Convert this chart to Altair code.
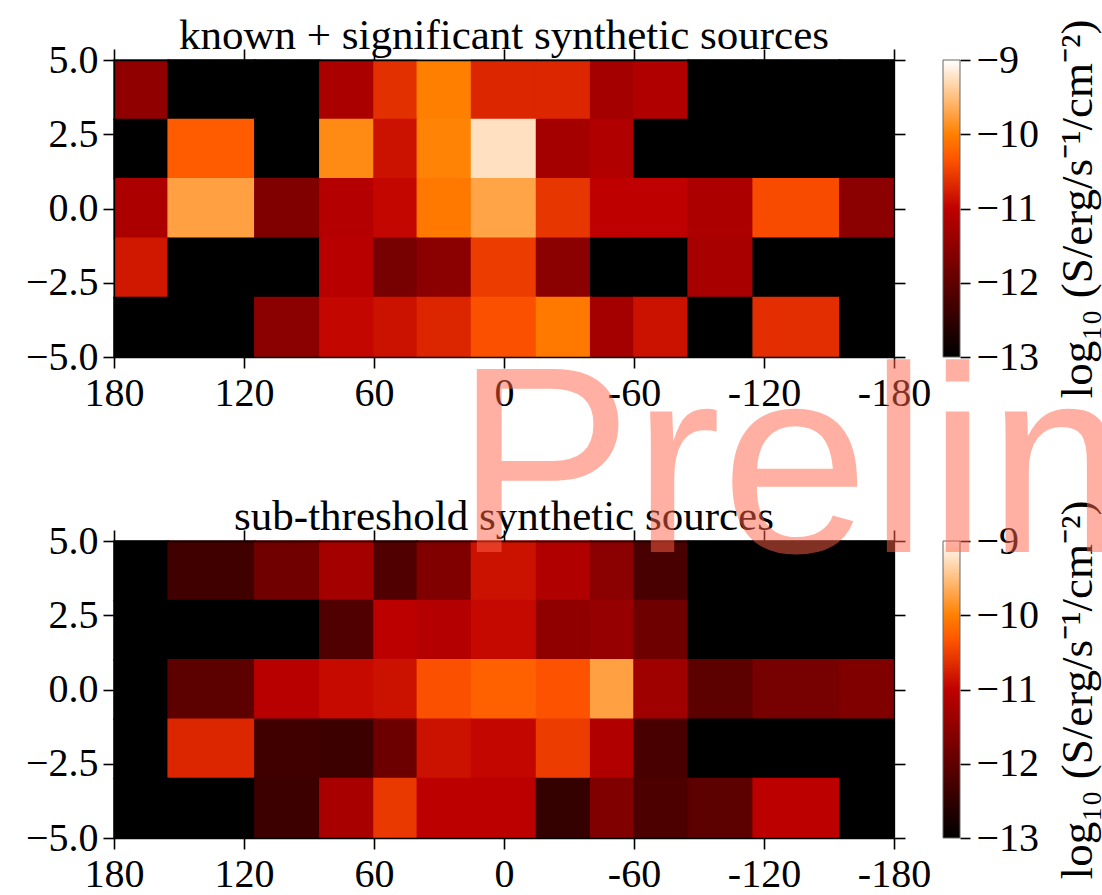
import altair as alt
import pandas as pd

# Longitude bin edges (deg, plotted from +180 on the left to -180 on the right)
LON_EDGES = [180, 155, 115, 85, 60, 40, 15, -15, -40, -60, -85, -115, -155, -180]
# Latitude bin edges (deg)
LAT_EDGES = [-5, -3, -1, 1, 3, 5]

# log10 flux per cell; rows run from the top band (3..5) down to (-5..-3)
KNOWN_SIG = [
    [-11.49, -13.0, -13.0, -11.21, -10.62, -10.00, -10.70, -10.70, -11.28, -11.16, -13.0, -13.0, -13.0],
    [-13.0, -10.28, -13.0, -9.92, -10.87, -9.98, -9.24, -11.28, -11.16, -13.0, -13.0, -13.0, -13.0],
    [-11.20, -9.74, -11.66, -11.12, -10.95, -10.06, -9.72, -10.58, -11.01, -11.01, -11.20, -10.41, -11.54],
    [-10.82, -13.0, -13.0, -11.07, -11.75, -11.54, -10.53, -11.54, -13.0, -13.0, -11.24, -13.0, -13.0],
    [-13.0, -13.0, -11.54, -10.95, -10.87, -10.70, -10.37, -10.06, -11.28, -10.87, -13.0, -10.64, -13.0],
]
SUB_THRESH = [
    [-13.0, -12.33, -11.83, -11.27, -12.16, -11.66, -10.87, -11.16, -11.54, -12.25, -13.0, -13.0, -13.0],
    [-13.0, -13.0, -13.0, -12.16, -11.03, -11.12, -10.93, -11.49, -11.43, -11.85, -13.0, -13.0, -13.0],
    [-13.0, -12.04, -11.07, -10.92, -10.87, -10.37, -10.25, -10.35, -9.74, -11.33, -12.04, -11.75, -11.66],
    [-13.0, -10.70, -12.33, -12.37, -11.87, -10.87, -10.95, -10.53, -11.16, -12.25, -13.0, -13.0, -13.0],
    [-13.0, -13.0, -12.37, -11.24, -10.56, -11.03, -11.03, -12.46, -11.66, -12.20, -12.04, -11.03, -13.0],
]

TITLES = ["known + significant synthetic sources", "sub-threshold synthetic sources"]
X_TICKS = [180, 120, 60, 0, -60, -120, -180]
Y_TICKS = [5.0, 2.5, 0.0, -2.5, -5.0]
CBAR_TICKS = [-9, -10, -11, -12, -13]
FLUX_MIN, FLUX_MAX = -13, -9
CBAR_LABEL = "log\u2081\u2080 (S/erg/s\u207b\u00b9/cm\u207b\u00b2)"
WATERMARK = "Preliminary"

# gist_heat colormap as piecewise-linear RGB stops
CMAP_DOMAIN = [-13.0, -11.0, -31.0 / 3.0, -10.0, -9.0]
CMAP_RANGE = ["#000000", "#bf0000", "#ff5500", "#ff8000", "#ffffff"]

SERIF = "Liberation Serif"
PLOT_W, PLOT_H = 780, 297
CBAR_W = 17


def to_long(grid):
    recs = []
    for r, row in enumerate(grid):
        lat_hi = LAT_EDGES[-1 - r]
        lat_lo = LAT_EDGES[-2 - r]
        for c, v in enumerate(row):
            recs.append({"lon_a": LON_EDGES[c], "lon_b": LON_EDGES[c + 1],
                         "lat_lo": lat_lo, "lat_hi": lat_hi, "flux": v})
    return pd.DataFrame(recs)


def axis(orient, values, show_labels=True, fmt=None, label_expr=None, tick=11):
    kw = dict(orient=orient, values=values, labels=show_labels, ticks=True,
              tickSize=tick, tickWidth=1.6, tickColor="black",
              domain=True, domainColor="black", domainWidth=1.3,
              grid=False, title=None, zindex=1,
              labelFont=SERIF, labelFontSize=40, labelColor="black",
              labelOverlap=False, labelFlush=False, labelBound=False)
    if show_labels:
        kw["labelPadding"] = 5
    if fmt:
        kw["format"] = fmt
    if label_expr:
        kw["labelExpr"] = label_expr
    return alt.Axis(**kw)


def heatmap(grid, title):
    df = to_long(grid)
    x_scale = alt.Scale(domain=[180, -180], nice=False, zero=False)
    y_scale = alt.Scale(domain=[-5, 5], nice=False, zero=False)
    c_scale = alt.Scale(domain=CMAP_DOMAIN, range=CMAP_RANGE,
                        interpolate="rgb", clamp=True)
    base = alt.Chart(df)
    cells = base.mark_rect(strokeWidth=1.5).encode(
        x=alt.X("lon_a:Q", scale=x_scale,
                axis=axis("bottom", X_TICKS, label_expr="'' + datum.value")),
        x2="lon_b:Q",
        y=alt.Y("lat_lo:Q", scale=y_scale, axis=axis("left", Y_TICKS, fmt=".1f")),
        y2="lat_hi:Q",
        color=alt.Color("flux:Q", scale=c_scale, legend=None),
        stroke=alt.Stroke("flux:Q", scale=c_scale, legend=None),
    )
    # invisible layer that carries the mirrored top / right tick axes
    mirror = base.mark_point(opacity=0).encode(
        x=alt.X("lon_a:Q", scale=x_scale, axis=axis("top", X_TICKS, show_labels=False)),
        y=alt.Y("lat_lo:Q", scale=y_scale, axis=axis("right", Y_TICKS, show_labels=False)),
    )
    return alt.layer(cells, mirror).properties(
        width=PLOT_W, height=PLOT_H,
        title=alt.TitleParams(text=title, font=SERIF, fontSize=43,
                              fontWeight="normal", color="black",
                              anchor="middle", frame="group",
                              baseline="alphabetic", offset=-52),
    )


def colorbar(watermark=False):
    df = pd.DataFrame({"lo": [FLUX_MIN], "hi": [FLUX_MAX]})
    span = FLUX_MAX - FLUX_MIN
    grad = alt.LinearGradient(
        gradient="linear", x1=0, x2=0, y1=1, y2=0,
        stops=[alt.GradientStop(offset=(d - FLUX_MIN) / span, color=c)
               for d, c in zip(CMAP_DOMAIN, CMAP_RANGE)],
    )
    cb_axis = alt.Axis(orient="right", values=CBAR_TICKS, format="d",
                       domain=False, ticks=True, tickSize=10, tickWidth=1.6,
                       tickColor="black", grid=False,
                       labelFont=SERIF, labelFontSize=40, labelColor="black",
                       labelPadding=6, labelOverlap=False, labelFlush=False,
                       labelBound=False,
                       title=CBAR_LABEL, titleFont=SERIF, titleFontSize=45,
                       titleFontWeight="normal", titleColor="black",
                       titleAngle=270, titleX=131, titleY=PLOT_H / 2,
                       titleAlign="center", titleBaseline="alphabetic")
    bar = alt.Chart(df).mark_rect(fill=grad, stroke="#666666", strokeWidth=1).encode(
        x=alt.value(0), x2=alt.value(CBAR_W),
        y=alt.Y("lo:Q", scale=alt.Scale(domain=[FLUX_MIN, FLUX_MAX], nice=False, zero=False),
                axis=cb_axis),
        y2="hi:Q",
    )
    layers = [bar]
    if watermark:
        # semi-transparent stamp drawn over both panels
        wm = alt.Chart(pd.DataFrame({"t": [WATERMARK]})).mark_text(
            font="Liberation Sans", fontSize=266, color="tomato", opacity=0.5,
            align="left", baseline="alphabetic",
        ).encode(x=alt.value(-488), y=alt.value(11), text="t:N")
        layers.append(wm)
    return alt.layer(*layers).properties(width=CBAR_W, height=PLOT_H)


chart = alt.concat(
    heatmap(KNOWN_SIG, TITLES[0]), colorbar(),
    heatmap(SUB_THRESH, TITLES[1]), colorbar(watermark=True),
    columns=2, spacing={"row": 184, "column": 49},
    bounds="flush", align="each",
).properties(
    autosize=alt.AutoSizeParams(type="none"),
    padding={"left": 114, "top": 60, "right": 988, "bottom": 835},
    background="white",
).configure_view(strokeWidth=0)

chart.save("out.html", embed_options={"renderer": "svg", "actions": False})
